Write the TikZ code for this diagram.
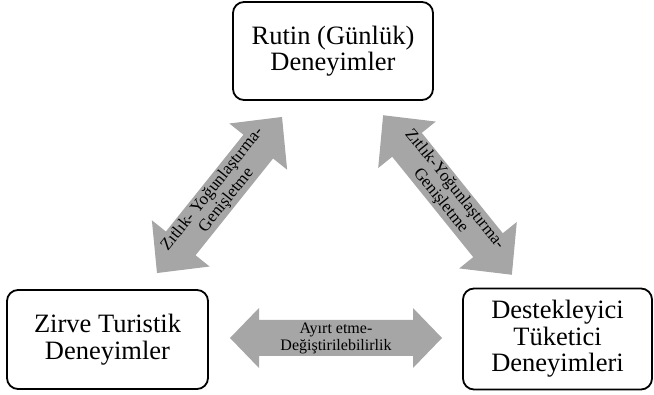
\documentclass[tikz,border=0pt]{standalone}
\usepackage{fontspec}
\setmainfont{Liberation Serif}
\usetikzlibrary{calc}

\definecolor{arrowgray}{HTML}{A6A6A6}

\tikzset{
  expbox/.style={draw=black, line width=1.8pt, rounded corners=11pt, fill=white,
    align=center, inner sep=0pt, font=\fontsize{26.5}{26.5}\selectfont},
  arrowtext/.style={align=center, inner sep=0pt},
  arrowbody/.style={fill=arrowgray}
}

% Double-headed block arrow: #1 node name, #2 centre, #3 angle, #4 length,
% #5 shaft width, #6 head width, #7 head length, #8 font, #9 label
\newcommand\blockarrow[9]{%
  \begin{scope}[shift={#2}, rotate=#3]
    \fill[arrowbody]
      ({-(#4)/2},0) -- ({-(#4)/2+(#7)},{(#6)/2}) -- ({-(#4)/2+(#7)},{(#5)/2})
      -- ({(#4)/2-(#7)},{(#5)/2}) -- ({(#4)/2-(#7)},{(#6)/2}) -- ({(#4)/2},0)
      -- ({(#4)/2-(#7)},{-(#6)/2}) -- ({(#4)/2-(#7)},{-(#5)/2})
      -- ({-(#4)/2+(#7)},{-(#5)/2}) -- ({-(#4)/2+(#7)},{-(#6)/2}) -- cycle;
  \end{scope}
  \node[arrowtext, font={#8}, rotate=#3] (#1) at #2 {#9};
}

\begin{document}
\begin{tikzpicture}[x=1pt, y=-1pt]
  \useasboundingbox (0,0) rectangle (654,395);

  % the three kinds of experience
  \node[expbox, minimum width=200pt, minimum height=98pt] (rutin) at (333,51)
    {Rutin (Günlük)\\Deneyimler};
  \node[expbox, minimum width=201pt, minimum height=99pt] (zirve) at (107.5,339.5)
    {Zirve Turistik\\Deneyimler};
  \node[expbox, minimum width=189pt, minimum height=101pt] (destek) at (557.5,339)
    {Destekleyici\\Tüketici\\Deneyimleri};

  % relations between them
  \blockarrow{solok}{(219.5,195)}{51.3}{200}{38}{74}{38}{\fontsize{17}{18}\selectfont}
    {Zıtlık- Yoğunlaştırma-\\Genişletme}
  \blockarrow{sagok}{(447.5,195)}{-51.1}{205}{38}{74}{38}{\fontsize{17}{18}\selectfont}
    {Zıtlık-Yoğunlaştırma-\\Genişletme}
  \blockarrow{altok}{(336,338)}{0}{212}{36}{60}{29}{\fontsize{16}{17}\selectfont}
    {Ayırt etme-\\Değiştirilebilirlik}
\end{tikzpicture}
\end{document}
